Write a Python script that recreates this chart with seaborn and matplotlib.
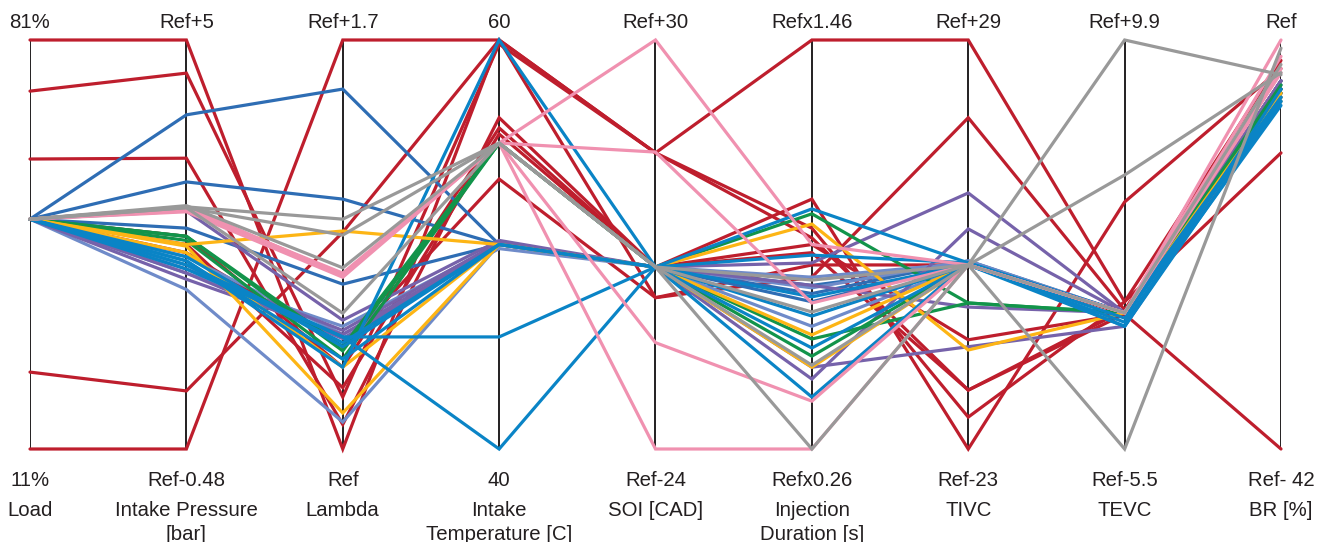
import numpy as np
import pandas as pd
import matplotlib
matplotlib.use("Agg")
import matplotlib.pyplot as plt
import seaborn as sns

# Parallel-coordinate axes (left to right)
axis_names = ["Load", "Intake Pressure\n[bar]", "Lambda", "Intake\nTemperature [C]",
              "SOI [CAD]", "Injection\nDuration [s]", "TIVC", "TEVC", "BR [%]"]
top_labels = ["81%", "Ref+5", "Ref+1.7", "60", "Ref+30", "Refx1.46", "Ref+29", "Ref+9.9", "Ref"]
bottom_labels = ["11%", "Ref-0.48", "Ref", "40", "Ref-24", "Refx0.26", "Ref-23", "Ref-5.5", "Ref- 42"]

# Normalised values (0 = bottom label, 1 = top label) per operating point, grouped by colour
red_lines = [
    [1.000, 1.000, 0.000, 1.000, 0.724, 1.000, 1.000, 0.360, 0.724],
    [0.875, 0.919, 0.127, 0.990, 0.724, 0.516, 0.144, 0.330, 0.000],
    [0.709, 0.711, 0.060, 0.810, 0.445, 0.611, 0.000, 0.604, 0.930],
    [0.188, 0.142, 0.530, 1.000, 0.370, 0.420, 0.810, 0.340, 0.900],
    [0.000, 0.000, 1.000, 1.000, 0.724, 0.540, 0.078, 0.360, 0.950],
    [0.562, 0.520, 0.200, 0.785, 0.445, 0.500, 0.267, 0.330, 0.900],
    [0.562, 0.500, 0.150, 0.770, 0.445, 0.480, 0.144, 0.340, 0.880],
    [0.562, 0.480, 0.250, 0.660, 0.370, 0.450, 0.450, 0.330, 0.870],
]
dark_blue_lines = [
    [0.562, 0.817, 0.880, 0.500, 0.445, 0.400, 0.450, 0.333, 0.900],
    [0.562, 0.653, 0.611, 0.500, 0.445, 0.380, 0.460, 0.333, 0.880],
    [0.562, 0.540, 0.403, 0.500, 0.445, 0.360, 0.455, 0.333, 0.890],
]
light_blue_lines = [
    [0.562, 0.390, 0.066, 0.500, 0.445, 0.394, 0.460, 0.333, 0.880],
    [0.562, 0.430, 0.300, 0.500, 0.445, 0.300, 0.450, 0.333, 0.870],
    [0.562, 0.470, 0.280, 0.490, 0.445, 0.420, 0.455, 0.333, 0.900],
]
purple_lines = [
    [0.562, 0.582, 0.315, 0.510, 0.445, 0.455, 0.626, 0.333, 0.900],
    [0.562, 0.415, 0.280, 0.500, 0.445, 0.171, 0.538, 0.333, 0.880],
    [0.562, 0.440, 0.290, 0.505, 0.445, 0.400, 0.347, 0.333, 0.870],
    [0.562, 0.430, 0.270, 0.500, 0.445, 0.200, 0.250, 0.300, 0.860],
]
green_lines = [
    [0.562, 0.520, 0.240, 0.748, 0.445, 0.575, 0.357, 0.333, 0.890],
    [0.562, 0.510, 0.220, 0.748, 0.445, 0.269, 0.357, 0.333, 0.880],
    [0.562, 0.520, 0.250, 0.748, 0.445, 0.227, 0.450, 0.333, 0.870],
]
yellow_lines = [
    [0.562, 0.500, 0.533, 0.500, 0.445, 0.550, 0.242, 0.333, 0.870],
    [0.562, 0.496, 0.088, 0.500, 0.445, 0.279, 0.450, 0.333, 0.860],
    [0.562, 0.480, 0.200, 0.500, 0.445, 0.200, 0.450, 0.333, 0.850],
]
blue_lines = [
    [0.562, 0.460, 0.200, 1.000, 0.445, 0.587, 0.455, 0.300, 0.880],
    [0.562, 0.450, 0.274, 0.274, 0.445, 0.474, 0.455, 0.333, 0.860],
    [0.562, 0.440, 0.274, 0.000, 0.445, 0.127, 0.455, 0.333, 0.850],
    [0.562, 0.470, 0.250, 0.500, 0.445, 0.325, 0.450, 0.300, 0.850],
    [0.562, 0.460, 0.220, 0.500, 0.445, 0.247, 0.450, 0.310, 0.840],
    [0.562, 0.450, 0.260, 0.500, 0.445, 0.372, 0.450, 0.320, 0.860],
]
pink_lines = [
    [0.562, 0.592, 0.425, 0.748, 1.000, 0.500, 0.450, 0.333, 1.000],
    [0.562, 0.590, 0.425, 0.748, 0.726, 0.357, 0.450, 0.333, 0.960],
    [0.562, 0.580, 0.420, 0.748, 0.260, 0.117, 0.450, 0.333, 0.930],
    [0.562, 0.585, 0.430, 0.748, 0.000, 0.000, 0.450, 0.333, 0.920],
]
grey_lines = [
    [0.562, 0.592, 0.562, 0.748, 0.445, 0.413, 0.450, 1.000, 0.915],
    [0.562, 0.590, 0.523, 0.748, 0.445, 0.000, 0.450, 0.670, 0.920],
    [0.562, 0.595, 0.443, 0.748, 0.445, 0.335, 0.450, 0.000, 0.980],
    [0.562, 0.590, 0.332, 0.748, 0.445, 0.205, 0.450, 0.333, 0.940],
]

groups = [
    (red_lines, "#BE1E2D"),
    (dark_blue_lines, "#2E6DB4"),
    (light_blue_lines, "#6F8BC9"),
    (purple_lines, "#7662AA"),
    (green_lines, "#12944A"),
    (yellow_lines, "#FDB515"),
    (blue_lines, "#0A84C6"),
    (pink_lines, "#F091B0"),
    (grey_lines, "#999999"),
]

rows = []
palette = {}
n = 0
for lines, color in groups:
    for vals in lines:
        lid = f"run{n:02d}"
        palette[lid] = color
        for i, v in enumerate(vals):
            rows.append({"run": lid, "axis": i, "value": v})
        n += 1
df = pd.DataFrame(rows)

sns.set_style("white")
plt.rcParams["font.family"] = ["Liberation Sans", "DejaVu Sans"]

W, H = 1328, 542
fig = plt.figure(figsize=(W / 100, H / 100), dpi=100)
x0, x1, ytop, ybot = 30, 1281, 40, 449
ax = fig.add_axes([x0 / W, (H - ybot) / H, (x1 - x0) / W, (ybot - ytop) / H])

# vertical coordinate axes
ax.vlines(range(len(axis_names)), 0, 1, color="#231F20", lw=1.4, zorder=1)

sns.lineplot(data=df, x="axis", y="value", hue="run", palette=palette,
             units="run", estimator=None, sort=False, legend=False,
             lw=2.3, ax=ax, zorder=2)
for ln in ax.lines:
    ln.set_clip_on(False)
    ln.set_solid_joinstyle("miter")

ax.set_xlim(0, len(axis_names) - 1)
ax.set_ylim(0, 1)
ax.axis("off")

px = 1.0 / (ybot - ytop)
txt = dict(ha="center", va="center", fontsize=14.7, color="#231F20", clip_on=False)
for i in range(len(axis_names)):
    ax.text(i, 1 + (ytop - 22) * px, top_labels[i], **txt)
    ax.text(i, -(480 - ybot) * px, bottom_labels[i], **txt)
    for k, part in enumerate(axis_names[i].split("\n")):
        ax.text(i, -(511 + 24 * k - ybot) * px, part, **txt)

fig.savefig("out.png", dpi=100)
